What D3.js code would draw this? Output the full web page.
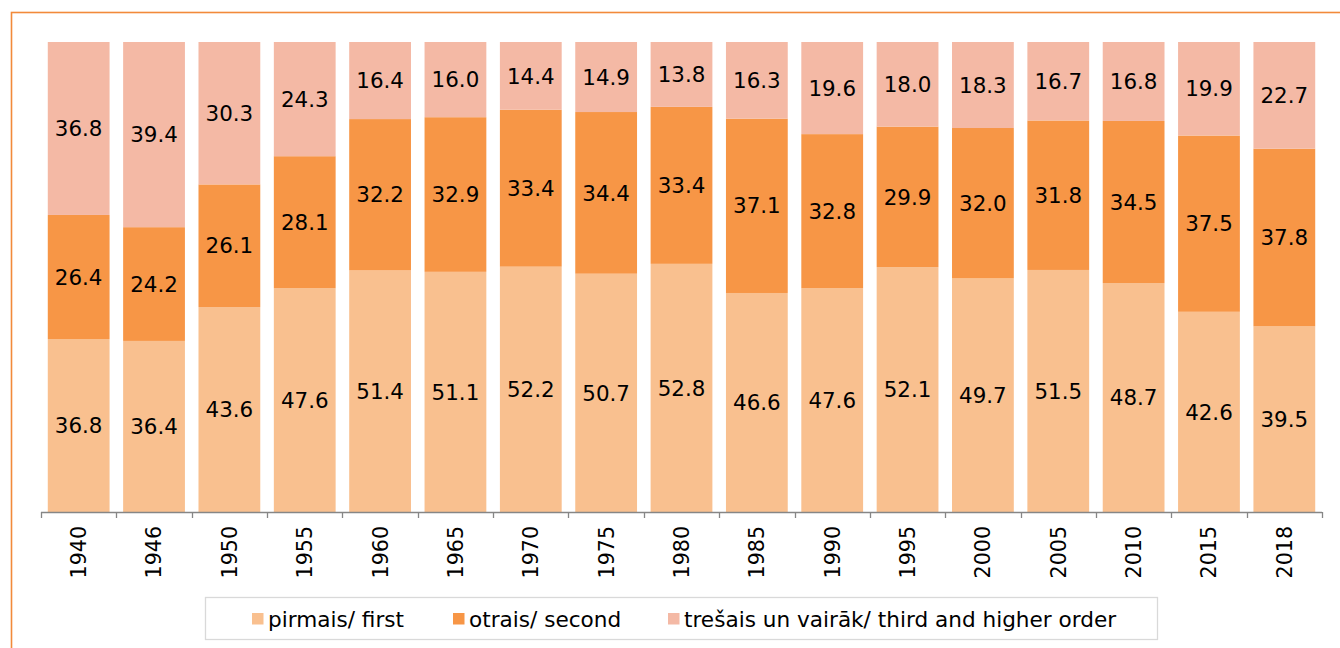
<!DOCTYPE html>
<html>
<head>
<meta charset="utf-8">
<script src="https://cdn.jsdelivr.net/npm/d3@7"></script>
<style>
  body { margin: 0; background: #fff; }
  text { font-family: 'DejaVu Sans', Verdana, sans-serif; }
</style>
</head>
<body>
<script>
const years = ['1940', '1946', '1950', '1955', '1960', '1965', '1970', '1975', '1980',
               '1985', '1990', '1995', '2000', '2005', '2010', '2015', '2018'];
const first = [36.8, 36.4, 43.6, 47.6, 51.4, 51.1, 52.2, 50.7, 52.8, 46.6, 47.6, 52.1, 49.7, 51.5, 48.7, 42.6, 39.5];
const second = [26.4, 24.2, 26.1, 28.1, 32.2, 32.9, 33.4, 34.4, 33.4, 37.1, 32.8, 29.9, 32.0, 31.8, 34.5, 37.5, 37.8];
const third = [36.8, 39.4, 30.3, 24.3, 16.4, 16.0, 14.4, 14.9, 13.8, 16.3, 19.6, 18.0, 18.3, 16.7, 16.8, 19.9, 22.7];
const seriesNames = ['pirmais/ first', 'otrais/ second', 'trešais un vairāk/ third and higher order'];
const colors = ['#F9C08F', '#F79646', '#F4B9A5'];

const W = 1340, H = 648;
const svg = d3.select('body').append('svg')
  .attr('width', W)
  .attr('height', H);

// orange frame (runs off the page right and bottom)
svg.append('rect')
  .attr('x', 11.5).attr('y', 12.5)
  .attr('width', 1400).attr('height', 700)
  .attr('fill', 'none')
  .attr('stroke', '#F28A3A')
  .attr('stroke-width', 1.6);

const plotL = 41, plotR = 1322, plotT = 42, plotB = 512;

const rows = years.map((y, i) => ({year: y, first: first[i], second: second[i], third: third[i]}));
const keys = ['first', 'second', 'third'];
const stacked = d3.stack().keys(keys)(rows);

const x = d3.scaleBand().domain(years).range([plotL, plotR]).paddingInner(0.18).paddingOuter(0.09);
const y = d3.scaleLinear().domain([0, 100]).range([plotB, plotT]);

const groups = svg.selectAll('g.series')
  .data(stacked)
  .enter()
  .append('g')
    .attr('class', 'series')
    .attr('fill', (d, i) => colors[i]);

groups.selectAll('rect')
  .data(d => d)
  .enter()
  .append('rect')
    .attr('x', d => x(d.data.year))
    .attr('y', d => y(d[1]))
    .attr('width', x.bandwidth())
    .attr('height', d => y(d[0]) - y(d[1]));

groups.selectAll('text')
  .data((d, i) => d.map(p => ({p: p, key: keys[i]})))
  .enter()
  .append('text')
    .text(d => d.p.data[d.key].toFixed(1))
    .attr('x', d => x(d.p.data.year) + x.bandwidth() / 2)
    .attr('y', d => (y(d.p[0]) + y(d.p[1])) / 2)
    .attr('dy', '0.36em')
    .attr('text-anchor', 'middle')
    .attr('fill', '#000')
    .style('font-size', '21.4px');

// x axis: line with ticks between categories
const axisG = svg.append('g');
axisG.append('line')
  .attr('x1', plotL).attr('x2', plotR)
  .attr('y1', plotB + 0.5).attr('y2', plotB + 0.5)
  .attr('stroke', '#868686').attr('stroke-width', 1.3);

const step = x.step();
const boundaries = years.map(yr => x(yr) - step * 0.09).concat([plotR]);
axisG.selectAll('line.tick')
  .data(boundaries)
  .enter()
  .append('line')
    .attr('class', 'tick')
    .attr('x1', d => Math.round(d) + 0.5).attr('x2', d => Math.round(d) + 0.5)
    .attr('y1', plotB).attr('y2', plotB + 6)
    .attr('stroke', '#868686').attr('stroke-width', 1.3);

axisG.selectAll('text')
  .data(years)
  .enter()
  .append('text')
    .text(d => d)
    .attr('transform', d => `translate(${x(d) + x.bandwidth() / 2},526) rotate(-90)`)
    .attr('text-anchor', 'end')
    .attr('dy', '0.36em')
    .attr('fill', '#000')
    .style('font-size', '20.6px');

// legend
const legend = svg.append('g');
legend.append('rect')
  .attr('x', 205.5).attr('y', 597.5)
  .attr('width', 952).attr('height', 42)
  .attr('fill', '#fff')
  .attr('stroke', '#d9d9d9')
  .attr('stroke-width', 1.3);

const legendX = [252, 453, 668];
const items = legend.selectAll('g.item')
  .data(seriesNames)
  .enter()
  .append('g')
    .attr('class', 'item')
    .attr('transform', (d, i) => `translate(${legendX[i]},613)`);
items.append('rect')
  .attr('width', 11.5).attr('height', 11.5)
  .attr('fill', (d, i) => colors[i]);
items.append('text')
  .text(d => d)
  .attr('x', 16)
  .attr('y', 13.5)
  .attr('fill', '#000')
  .style('font-size', '21.6px');
</script>
</body>
</html>
